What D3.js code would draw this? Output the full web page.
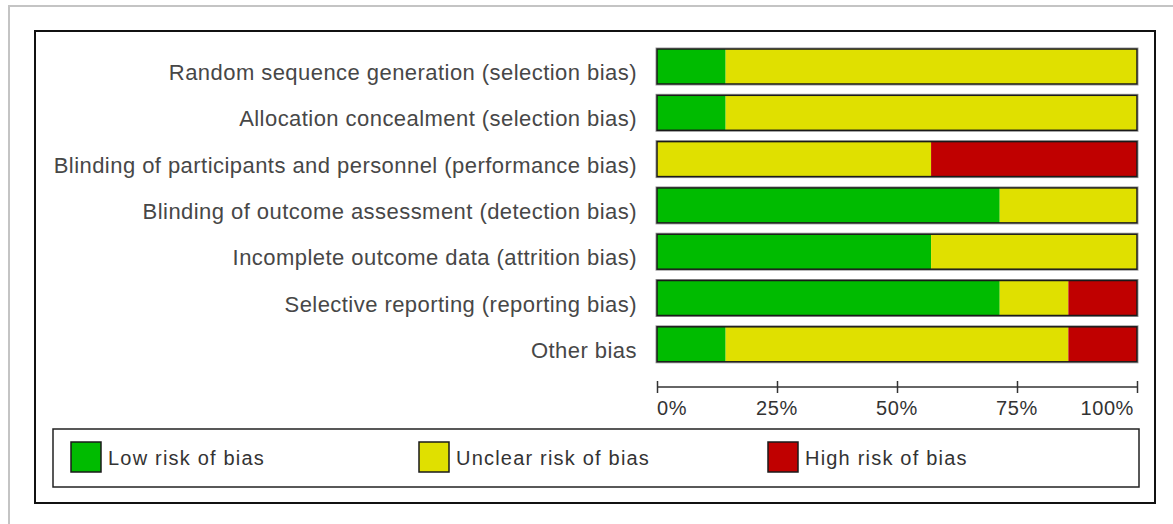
<!DOCTYPE html>
<html><head><meta charset="utf-8">
<script src="https://cdn.jsdelivr.net/npm/d3@7"></script>
<style>body{margin:0;background:#fff;} svg{display:block;}</style>
</head><body>
<svg id="c" width="1173" height="524"></svg>
<script>
const domains = [
  "Random sequence generation (selection bias)",
  "Allocation concealment (selection bias)",
  "Blinding of participants and personnel (performance bias)",
  "Blinding of outcome assessment (detection bias)",
  "Incomplete outcome data (attrition bias)",
  "Selective reporting (reporting bias)",
  "Other bias"
];
const lowRisk     = [14.3, 14.3, 0, 71.4, 57.1, 71.4, 14.3];
const unclearRisk = [85.7, 85.7, 57.1, 28.6, 42.9, 14.3, 71.4];
const highRisk    = [0, 0, 42.9, 0, 0, 14.3, 14.3];
const seriesNames = ["Low risk of bias", "Unclear risk of bias", "High risk of bias"];
const seriesColors = ["#00bb00", "#e0e000", "#c00000"];
const tickValues = [0, 25, 50, 75, 100];
const tickLabels = ["0%", "25%", "50%", "75%", "100%"];

const svg = d3.select("#c");
// outer gray frame
svg.append("rect").attr("x", 9).attr("y", 6).attr("width", 1180).attr("height", 540)
  .attr("fill", "none").attr("stroke", "#c4c4c4").attr("stroke-width", 2);
// inner black frame
svg.append("rect").attr("x", 35).attr("y", 31).attr("width", 1120).attr("height", 472)
  .attr("fill", "#fff").attr("stroke", "#111").attr("stroke-width", 2);

const x = d3.scaleLinear().domain([0, 100]).range([657, 1137]);
const y = d3.scaleBand().domain(domains).range([49 - 5.65, 49 - 5.65 + 46.3 * 7]).paddingInner(0.244).paddingOuter(0.122);

const rows = domains.map((d, i) => ({name: d, vals: [lowRisk[i], unclearRisk[i], highRisk[i]]}));
const g = svg.append("g");
rows.forEach(r => {
  let acc = 0;
  const y0 = y(r.name), h = y.bandwidth();
  g.append("rect").attr("x", x(0) - 1).attr("y", y0 - 1).attr("width", x(100) - x(0) + 2).attr("height", h + 2)
    .attr("fill", "none").attr("stroke", "#9a9a9a").attr("stroke-width", 1);
  r.vals.forEach((v, k) => {
    if (v > 0) {
      g.append("rect").attr("x", x(acc)).attr("y", y0).attr("width", x(acc + v) - x(acc)).attr("height", h)
        .attr("fill", seriesColors[k]);
    }
    acc += v;
  });
  g.append("rect").attr("x", x(0)).attr("y", y0).attr("width", x(100) - x(0)).attr("height", h)
    .attr("fill", "none").attr("stroke", "#1a1a1a").attr("stroke-width", 1.5);
  g.append("text").attr("x", 637).attr("y", y0 + h / 2 + 13.5)
    .attr("text-anchor", "end").attr("fill", "#474747")
    .style("font-family", "'Liberation Sans', Arial, sans-serif").style("font-size", "22px")
    .style("letter-spacing", "0.45px").text(r.name);
});

// axis
const axisY = 387;
const ax = svg.append("g").attr("transform", `translate(0,${axisY})`)
  .call(d3.axisBottom(x).tickValues(tickValues).tickSize(6).tickFormat(""));
ax.select(".domain").remove();
ax.append("line").attr("x1", x(0)).attr("x2", x(100)).attr("stroke", "#333").attr("stroke-width", 1.5);
ax.selectAll(".tick line").attr("y1", -6).attr("y2", 6).attr("stroke", "#333").attr("stroke-width", 1.5);
tickValues.forEach((t, i) => {
  const anchor = i === 0 ? "start" : (i === tickValues.length - 1 ? "end" : "middle");
  svg.append("text").attr("x", i === tickValues.length - 1 ? x(t) - 3 : x(t)).attr("y", 415)
    .attr("text-anchor", anchor).attr("fill", "#333")
    .style("font-family", "'Liberation Sans', Arial, sans-serif").style("font-size", "20px")
    .style("letter-spacing", "0.6px").text(tickLabels[i]);
});

// legend
svg.append("rect").attr("x", 53).attr("y", 429).attr("width", 1086).attr("height", 58)
  .attr("fill", "none").attr("stroke", "#222").attr("stroke-width", 1.5);
const legX = [71, 419, 768];
seriesNames.forEach((n, i) => {
  svg.append("rect").attr("x", legX[i]).attr("y", 442).attr("width", 30).attr("height", 30)
    .attr("fill", seriesColors[i]).attr("stroke", "#1a1a1a").attr("stroke-width", 1.5);
  svg.append("text").attr("x", legX[i] + 37).attr("y", 465).attr("fill", "#333")
    .style("font-family", "'Liberation Sans', Arial, sans-serif").style("font-size", "20px")
    .style("letter-spacing", "1.2px").text(n);
});
</script>
</body></html>
